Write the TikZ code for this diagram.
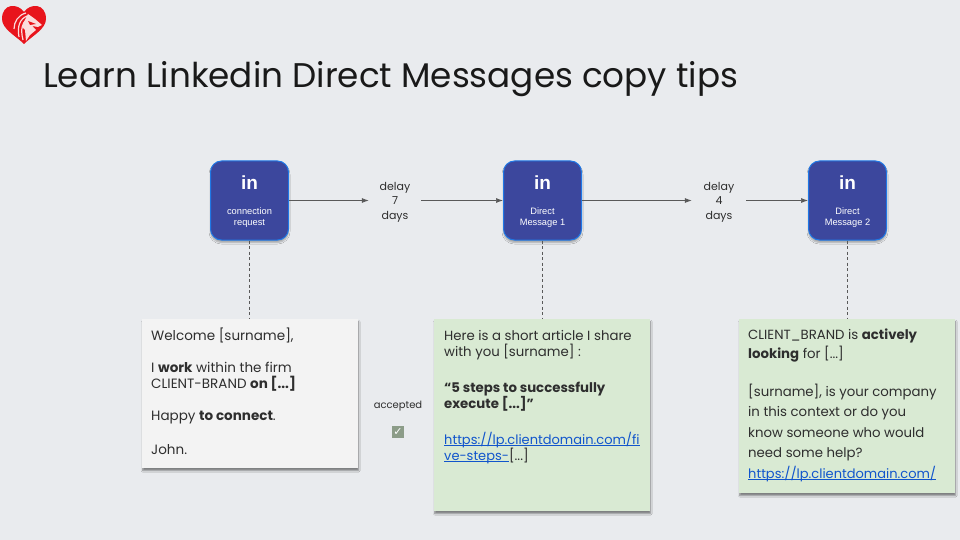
\documentclass[tikz,border=0pt]{standalone}
\usepackage{fontspec}
\setmainfont{Poppins}
\newfontfamily\arialfont{Liberation Sans}
\usetikzlibrary{positioning, shadows.blur, arrows.meta}
\definecolor{slidebg}{HTML}{E9EBEE}
\definecolor{stepblue}{HTML}{3C479D}
\definecolor{stepedge}{HTML}{1F78E6}
\definecolor{cardgreen}{HTML}{D9EAD3}
\definecolor{cardgrey}{HTML}{F3F3F3}
\definecolor{linkblue}{HTML}{1155CC}
\definecolor{heartred}{HTML}{E8141C}
\definecolor{inkgrey}{HTML}{2E2E2E}
\definecolor{tickbox}{HTML}{8C9C88}
\newcommand{\lnk}[1]{\textcolor{linkblue}{\fontsize{13}{16}\selectfont\setbox0=\hbox{#1}\rlap{\rule[-1.7pt]{\wd0}{.6pt}}\box0}}
\tikzset{
  stepbox/.style={
    minimum width=78pt,
    minimum height=79pt,
    rounded corners=11pt,
    draw=stepedge, fill=stepblue,
    line width=1pt,
    text=white, align=center, inner sep=0pt,
    blur shadow={shadow blur steps=6, shadow xshift=0pt, shadow yshift=-2.5pt, shadow blur radius=1.5pt, shadow opacity=30},
    font=\arialfont\fontsize{9.3}{11}\selectfont,
  },
  card/.style={
    minimum width=216pt,
    minimum height=#1,
    anchor=north west, inner sep=0pt,
    blur shadow={shadow blur steps=6, shadow xshift=.5pt, shadow yshift=-2.5pt, shadow blur radius=1.5pt, shadow opacity=45},
  },
  cardtext/.style={
    anchor=north west, inner sep=0pt,
    align=left, text=inkgrey,
    font=\fontsize{13.3}{16}\selectfont,
  },
  delay/.style={
    align=center, text=inkgrey, inner sep=0pt,
    font=\fontsize{11}{14.5}\selectfont,
  },
  flow/.style={draw=black!65, line width=.7pt, -{Latex[length=7pt,width=5pt]}},
  drop/.style={draw=black!65, line width=.5pt, dash pattern=on 3pt off 2.5pt},
}
\begin{document}
\begin{tikzpicture}[x=1pt, y=-1pt]
\useasboundingbox[fill=slidebg] (0,0) rectangle (960,540);

% logo
\fill[heartred] (24,12) .. controls (18,3) and (2,3) .. (2,19) .. controls (2,29) and (16,36) .. (24,44)
  .. controls (32,36) and (46,29) .. (46,19) .. controls (46,3) and (30,3) .. (24,12) -- cycle;
\fill[white!85!heartred] (28,14) -- (35,19) -- (42,25) -- (38,27) -- (32,26) -- (36,30) -- (30,35) -- (26,41) -- (25,30) -- (22,27) -- (25,20) -- cycle;
\fill[heartred] (28,21) -- (36,24) -- (30,25) -- cycle;
\draw[white!85!heartred, line width=1.2pt] (26,13) .. controls (18,15) and (14,22) .. (14,29);
\draw[white!85!heartred, line width=1.2pt] (27,16) .. controls (20,19) and (17,26) .. (19,37);
\draw[white!85!heartred, line width=1.2pt] (26,20) .. controls (23,23) and (20,28) .. (23,40);

\node[anchor=west, inner sep=0pt, text=black!90, font=\fontsize{34.2}{40}\selectfont] (title) at (43,79) {Learn Linkedin Direct Messages copy tips};

\node[stepbox] (connect) at (249.5,200.5) {\rule{0pt}{16pt}{\fontsize{19}{22}\selectfont\bfseries in}\\[14pt]connection\\request};
\node[stepbox] (dm1) at (542.5,200.5) {\rule{0pt}{16pt}{\fontsize{19}{22}\selectfont\bfseries in}\\[14pt]Direct\\Message 1};
\node[stepbox] (dm2) at (847.5,200.5) {\rule{0pt}{16pt}{\fontsize{19}{22}\selectfont\bfseries in}\\[14pt]Direct\\Message 2};

\node[delay, minimum width=52pt] (wait1) at (395,200.5) {\rule{0pt}{11pt}delay\\7\\days};
\node[delay, minimum width=54pt] (wait2) at (719,200.5) {\rule{0pt}{11pt}delay\\4\\days};

\node[card=149pt, fill=cardgrey] (welcome) at (142,319) {};
\node[card=192pt, fill=cardgreen] (article) at (434,319) {};
\node[card=174pt, fill=cardgreen] (help) at (739,319) {};

\node[cardtext, font=\fontsize{13.5}{16}\selectfont] (welcome-text) at ([shift={(9,9)}]welcome.north west) {Welcome [surname],\\[16pt]
  I \textbf{work} within the firm\\CLIENT-BRAND \textbf{on [...]}\\[16pt]
  Happy \textbf{to connect}.\\[18pt]
  John.};
\node[cardtext] (article-text) at ([shift={(10,11)}]article.north west) {Here is a short article I share\\with you [surname] :\\[20pt]
  \textbf{“5 steps to successfully}\\\textbf{execute [...]”}\\[20pt]
  \lnk{https://lp.clientdomain.com/fi}\\\lnk{ve-steps-}[...]};
\node[cardtext, font=\fontsize{13.3}{20.5}\selectfont] (help-text) at ([shift={(9,10)}]help.north west) {CLIENT\_BRAND is \textbf{actively}\\[-1.5pt]\textbf{looking} for [...]\\[17pt]
  [surname], is your company\\in this context or do you\\know someone who would\\need some help?\\
  \lnk{https://lp.clientdomain.com/}};

\node[delay, font=\fontsize{10}{12}\selectfont] (accepted) at (398,406) {accepted};
\node[below=15pt of accepted, inner sep=0pt, minimum size=12pt, fill=tickbox, text=white, font=\fontsize{11}{11}\selectfont\bfseries] (check) {\fontspec{DejaVu Sans}✓};

\draw[flow] (connect) -- (wait1);
\draw[flow] (wait1) -- (dm1);
\draw[flow] (dm1) -- (wait2);
\draw[flow] (wait2) -- (dm2);
\draw[drop] (connect) -- (welcome.north -| connect);
\draw[drop] (dm1) -- (article.north -| dm1);
\draw[drop] (dm2) -- (help.north -| dm2);
\end{tikzpicture}
\end{document}
